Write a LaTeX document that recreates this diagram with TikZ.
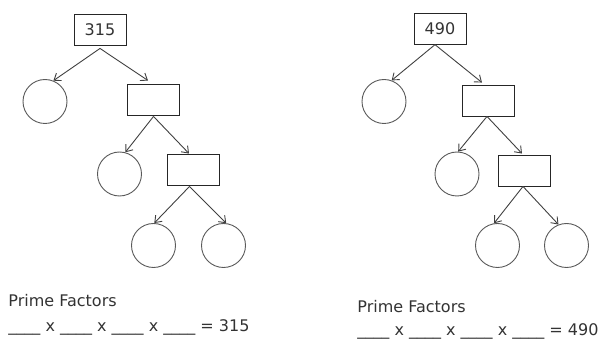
\documentclass[tikz,border=0pt]{standalone}
\usepackage{fontspec}
\setmainfont{DejaVu Sans}
\usetikzlibrary{arrows.meta}

\begin{document}
\begin{tikzpicture}[
  x=1pt, y=-1pt,
  line width=0.9pt,
  every node/.style={font=\fontsize{16}{19}\selectfont, text=black!80},
  box/.style={draw=black!85, minimum width=52pt, minimum height=31pt, inner sep=0pt},
  ball/.style={draw=black!65, circle, minimum size=44pt, inner sep=0pt},
  arr/.style={draw=black!75, -{Straight Barb[length=6pt, width=9pt]}},
  label text/.style={anchor=base west, inner sep=0pt},
]
  \useasboundingbox (0,0) rectangle (598,339);

  % Left tree: 315
  \node[box] (L0) at (100,29.5)   {315};
  \node[ball] (L1) at (45,101.5)  {};
  \node[box]  (L2) at (153.5,99.5) {};
  \node[ball] (L3) at (119.5,174) {};
  \node[box]  (L4) at (193.5,169.5) {};
  \node[ball] (L5) at (153.5,245.5) {};
  \node[ball] (L6) at (223.5,245.5) {};

  \draw[arr] ([yshift=-3pt]L0.south) -- (L1.68);
  \draw[arr] ([yshift=-3pt]L0.south) -- ([xshift=-5.5pt, yshift=3pt]L2.north);
  \draw[arr] ([yshift=-1pt]L2.south) -- (L3.75);
  \draw[arr] ([yshift=-1pt]L2.south) -- ([xshift=-4.5pt]L4.north);
  \draw[arr] ([xshift=-4pt, yshift=-1pt]L4.south) -- (L5.88);
  \draw[arr] ([xshift=-4pt, yshift=-1pt]L4.south) -- (L6.83);

  % Right tree: 490
  \node[box] (R0) at (440,28.7)   {490};
  \node[ball] (R1) at (384,101.5) {};
  \node[box]  (R2) at (488.5,100.5) {};
  \node[ball] (R3) at (457,174)   {};
  \node[box]  (R4) at (524.5,170.5) {};
  \node[ball] (R5) at (497.5,245.5) {};
  \node[ball] (R6) at (566.5,245.5) {};

  \draw[arr] ([xshift=-5pt]R0.south) -- (R1.70);
  \draw[arr] ([xshift=-5pt]R0.south) -- ([xshift=-6.5pt, yshift=2pt]R2.north);
  \draw[arr] ([xshift=-1.5pt]R2.south) -- (R3.87);
  \draw[arr] ([xshift=-1.5pt]R2.south) -- ([xshift=-2.5pt, yshift=1pt]R4.north);
  \draw[arr] ([xshift=-1.5pt]R4.south) -- (R5.99);
  \draw[arr] ([xshift=-1.5pt]R4.south) -- (R6.111);

  % Answer lines
  \node[label text] (LP) at (8,307)   {Prime Factors};
  \node[label text] (LE) at (8,332)   {\_\_\_\_ x \_\_\_\_ x \_\_\_\_ x \_\_\_\_ = 315};
  \node[label text] (RP) at (357,313) {Prime Factors};
  \node[label text] (RE) at (357,336) {\_\_\_\_ x \_\_\_\_ x \_\_\_\_ x \_\_\_\_ = 490};
\end{tikzpicture}
\end{document}
